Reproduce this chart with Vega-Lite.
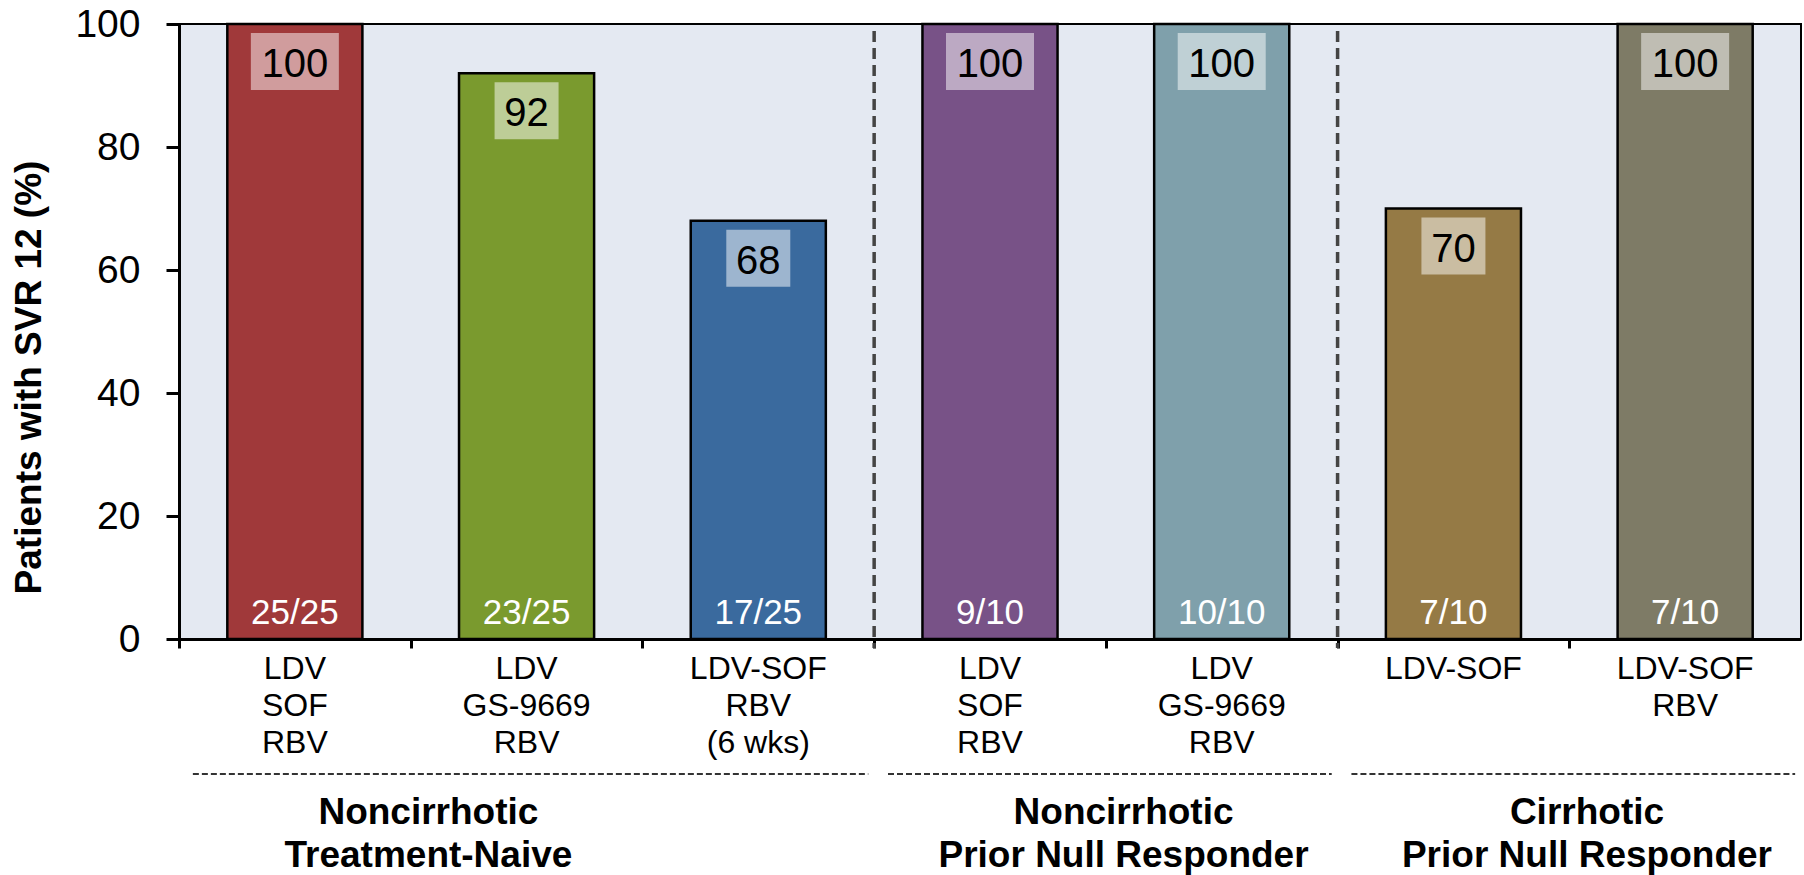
{
  "$schema": "https://vega.github.io/schema/vega-lite/v6.json",
  "width": 1622,
  "height": 615,
  "autosize": "none",
  "padding": {"left": 179, "top": 24, "right": 3, "bottom": 236},
  "background": "white",
  "config": {
    "font": "Liberation Sans",
    "view": {"stroke": "black", "strokeWidth": 2, "fill": "#E4E9F2"}
  },
  "datasets": {
    "arms": [
      {"arm": "A1", "label": "LDV|SOF|RBV", "pct": 100, "count": "25/25"},
      {"arm": "A2", "label": "LDV|GS-9669|RBV", "pct": 92, "count": "23/25"},
      {"arm": "A3", "label": "LDV-SOF|RBV|(6 wks)", "pct": 68, "count": "17/25"},
      {"arm": "A4", "label": "LDV|SOF|RBV", "pct": 100, "count": "9/10"},
      {"arm": "A5", "label": "LDV|GS-9669|RBV", "pct": 100, "count": "10/10"},
      {"arm": "A6", "label": "LDV-SOF", "pct": 70, "count": "7/10"},
      {"arm": "A7", "label": "LDV-SOF|RBV", "pct": 100, "count": "7/10"}
    ],
    "groups": [
      {"group": "Noncirrhotic|Treatment-Naive", "first": "A1", "last": "A3"},
      {"group": "Noncirrhotic|Prior Null Responder", "first": "A4", "last": "A5"},
      {"group": "Cirrhotic|Prior Null Responder", "first": "A6", "last": "A7"}
    ],
    "separators": [
      {"arm": "A4"},
      {"arm": "A6"}
    ]
  },
  "layer": [
    {
      "data": {"name": "arms"},
      "mark": {"type": "bar", "stroke": "black", "strokeWidth": 2.5},
      "encoding": {
        "x": {
          "field": "arm", "type": "nominal",
          "scale": {"domain": ["A1","A2","A3","A4","A5","A6","A7"], "paddingInner": 0.417, "paddingOuter": 0.2085},
          "axis": {
            "title": null, "labels": false, "ticks": true, "tickSize": 9, "tickWidth": 3,
            "tickColor": "black", "domainColor": "black", "domainWidth": 3,
            "bandPosition": 0, "tickOffset": -48.3, "grid": false
          }
        },
        "y": {
          "field": "pct", "type": "quantitative",
          "scale": {"domain": [0, 100], "nice": false},
          "axis": {
            "title": "Patients with SVR 12 (%)",
            "titleFontSize": 37, "titleFontWeight": "bold", "titleColor": "black",
            "titleX": -139, "titleY": 353, "titleAngle": -90, "titleBaseline": "alphabetic", "titleAlign": "center",
            "values": [0, 20, 40, 60, 80, 100],
            "labelFontSize": 39, "labelColor": "black", "labelPadding": 26,
            "tickSize": 13, "tickWidth": 3, "tickColor": "black",
            "domainColor": "black", "domainWidth": 3, "grid": false
          }
        },
        "color": {
          "field": "arm", "type": "nominal", "legend": null,
          "scale": {
            "domain": ["A1","A2","A3","A4","A5","A6","A7"],
            "range": ["#A0393A", "#7A9A2E", "#3A6A9E", "#785287", "#7FA0AB", "#957A45", "#7E7B66"]
          }
        }
      }
    },
    {
      "data": {"name": "arms"},
      "transform": [{"filter": "datum.pct >= 100"}],
      "mark": {"type": "bar", "color": "white", "opacity": 0.5, "width": 88, "yOffset": 9, "y2Offset": 66},
      "encoding": {
        "x": {"field": "arm", "type": "nominal"},
        "y": {"field": "pct", "type": "quantitative"},
        "y2": {"field": "pct"}
      }
    },
    {
      "data": {"name": "arms"},
      "transform": [{"filter": "datum.pct < 100"}],
      "mark": {"type": "bar", "color": "white", "opacity": 0.5, "width": 64, "yOffset": 9, "y2Offset": 66},
      "encoding": {
        "x": {"field": "arm", "type": "nominal"},
        "y": {"field": "pct", "type": "quantitative"},
        "y2": {"field": "pct"}
      }
    },
    {
      "data": {"name": "arms"},
      "mark": {"type": "text", "fontSize": 40, "color": "black", "baseline": "alphabetic", "align": "center", "dy": 53},
      "encoding": {
        "x": {"field": "arm", "type": "nominal"},
        "y": {"field": "pct", "type": "quantitative"},
        "text": {"field": "pct", "type": "quantitative"}
      }
    },
    {
      "data": {"name": "arms"},
      "mark": {"type": "text", "fontSize": 35, "color": "white", "baseline": "alphabetic", "align": "center", "dy": -15},
      "encoding": {
        "x": {"field": "arm", "type": "nominal"},
        "y": {"datum": 0},
        "text": {"field": "count", "type": "nominal"}
      }
    },
    {
      "data": {"name": "arms"},
      "mark": {"type": "text", "fontSize": 32, "color": "black", "baseline": "alphabetic", "align": "center", "dy": 40, "lineBreak": "|", "lineHeight": 37},
      "encoding": {
        "x": {"field": "arm", "type": "nominal"},
        "y": {"datum": 0},
        "text": {"field": "label", "type": "nominal"}
      }
    },
    {
      "data": {"name": "separators"},
      "mark": {"type": "rule", "color": "#444444", "strokeWidth": 3.5, "strokeDash": [11, 6], "xOffset": -48.3, "yOffset": 7, "y2Offset": 9},
      "encoding": {
        "x": {"field": "arm", "type": "nominal", "bandPosition": 0},
        "y": {"datum": 100},
        "y2": {"datum": 0}
      }
    },
    {
      "data": {"name": "groups"},
      "mark": {"type": "rule", "color": "#333333", "strokeWidth": 2, "strokeDash": [6, 3], "yOffset": 135, "xOffset": -102, "x2Offset": 110},
      "encoding": {
        "x": {"field": "first", "type": "nominal"},
        "x2": {"field": "last"},
        "y": {"datum": 0}
      }
    },
    {
      "data": {"name": "groups"},
      "mark": {"type": "text", "fontSize": 37, "fontWeight": "bold", "color": "black", "baseline": "alphabetic", "align": "center", "dy": 185, "dx": 66, "lineBreak": "|", "lineHeight": 43},
      "encoding": {
        "x": {"field": "first", "type": "nominal", "bandPosition": 1},
        "y": {"datum": 0},
        "text": {"field": "group", "type": "nominal"}
      }
    }
  ]
}
